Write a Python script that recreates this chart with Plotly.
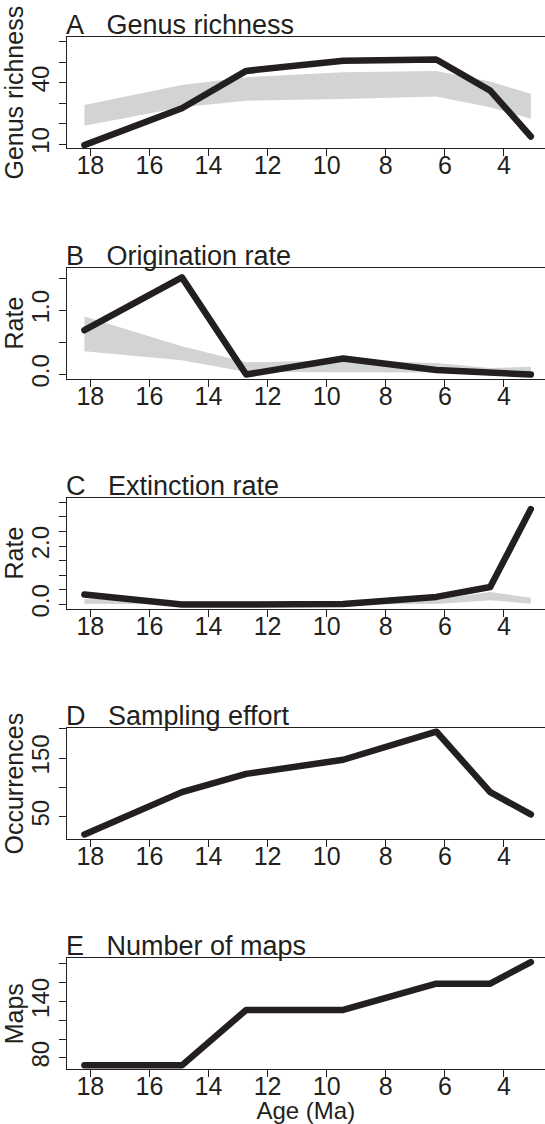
import plotly.graph_objects as go

# ---------------- data ----------------
ages = [18.2, 14.9, 12.725, 9.44, 6.29, 4.465, 3.09]
x_ticks = [18, 16, 14, 12, 10, 8, 6, 4]

genus = [9.5, 27.5, 45.7, 50.7, 51.3, 36.1, 13.7]
genus_lo = [18.9, 28.0, 31.2, 32.0, 33.2, 28.0, 22.3]
genus_hi = [29.1, 38.8, 42.6, 45.0, 45.7, 40.5, 34.5]

orig = [0.69, 1.51, 0.0, 0.25, 0.07, 0.04, 0.0]
orig_lo = [0.36, 0.22, 0.04, 0.04, 0.03, 0.02, 0.03]
orig_hi = [0.90, 0.44, 0.19, 0.22, 0.18, 0.10, 0.12]

ext = [0.34, 0.0, 0.0, 0.02, 0.26, 0.60, 3.27]
ext_lo = [0.03, 0.0, 0.0, 0.0, 0.02, 0.15, 0.03]
ext_hi = [0.20, 0.10, 0.10, 0.10, 0.17, 0.43, 0.23]

occ = [20, 92, 123, 147, 195, 92, 54]
maps = [72, 72, 131, 131, 159, 159, 182]

titles = ["A\u00a0\u00a0\u00a0Genus richness", "B\u00a0\u00a0\u00a0Origination rate",
          "C\u00a0\u00a0\u00a0Extinction rate", "D\u00a0\u00a0\u00a0Sampling effort",
          "E\u00a0\u00a0\u00a0Number of maps"]
ylabels = ["Genus richness", "Rate", "Rate", "Occurrences", "Maps"]

ytickvals = [[10, 20, 30, 40, 50, 60],
             [0, 0.5, 1.0, 1.5],
             [0, 0.5, 1.0, 1.5, 2.0, 2.5, 3.0, 3.5],
             [50, 100, 150, 200],
             [80, 100, 120, 140, 160, 180]]
yticktext = [["10", "", "", "40", "", ""],
             ["0.0", "", "1.0", ""],
             ["0.0", "", "", "", "2.0", "", "", ""],
             ["50", "", "150", ""],
             ["80", "", "", "140", "", ""]]
yranges = [[8.04, 62.1], [-0.062, 1.66], [-0.137, 3.66], [12.1, 200.5], [68, 186]]

series = [genus, orig, ext, occ, maps]
bands = [(genus_lo, genus_hi), (orig_lo, orig_hi), (ext_lo, ext_hi), None, None]

# ---------------- layout geometry ----------------
W, H = 545, 1124
box_tops = [37.3, 267.7, 497.7, 728.3, 958.3]
box_h = 110.8
x_left = 66.7
INK = "#231F20"
BAND = "#D1D3D4"
FONT = "Liberation Sans, Arial, Helvetica, sans-serif"

fig = go.Figure()
layout = dict(
    width=W, height=H,
    margin=dict(l=0, r=0, t=0, b=0),
    paper_bgcolor="white", plot_bgcolor="white",
    showlegend=False,
    font=dict(family=FONT, color=INK),
    annotations=[],
)

for i in range(5):
    n = i + 1
    xa = "x" if n == 1 else f"x{n}"
    ya = "y" if n == 1 else f"y{n}"
    if bands[i] is not None:
        lo, hi = bands[i]
        fig.add_trace(go.Scatter(
            x=ages + ages[::-1], y=lo + hi[::-1],
            fill="toself", fillcolor=BAND, mode="lines",
            line=dict(width=0, color=BAND), hoverinfo="skip",
            xaxis=xa, yaxis=ya))
    fig.add_trace(go.Scatter(
        x=ages, y=series[i], mode="lines",
        line=dict(color=INK, width=6.5),
        xaxis=xa, yaxis=ya, cliponaxis=True))

    top = box_tops[i]
    bot = top + box_h
    ydom = [1 - bot / H, 1 - top / H]

    xkey = "xaxis" if n == 1 else f"xaxis{n}"
    ykey = "yaxis" if n == 1 else f"yaxis{n}"
    layout[xkey] = dict(
        domain=[x_left / W, 1], range=[18.8, 2.61], anchor=ya,
        tickvals=x_ticks, ticktext=[str(t) for t in x_ticks],
        ticks="outside", ticklen=7, tickwidth=1, tickcolor=INK,
        showline=True, linecolor=INK, linewidth=1, mirror=True,
        showgrid=False, zeroline=False,
        tickfont=dict(size=25, color=INK, family=FONT),
        ticklabelstandoff=-12,
        automargin=False,
    )
    if n == 5:
        layout[xkey]["title"] = dict(text="Age (Ma)", font=dict(size=24, color=INK, family=FONT), standoff=7)
    layout[ykey] = dict(
        domain=ydom, range=yranges[i], anchor=xa,
        tickvals=ytickvals[i], ticktext=yticktext[i], tickangle=-90,
        ticks="outside", ticklen=7, tickwidth=1, tickcolor=INK,
        showline=True, linecolor=INK, linewidth=1, mirror=False,
        showgrid=False, zeroline=False,
        tickfont=dict(size=24, color=INK, family=FONT),
        title=dict(text=ylabels[i], font=dict(size=25, color=INK, family=FONT), standoff=2),
        automargin=False, ticklabelstandoff=0,
    )
    layout["annotations"].append(dict(
        text=titles[i], xref="paper", yref="paper",
        x=(x_left - 3) / W, y=1 - (top + 5) / H, xanchor="left", yanchor="bottom",
        showarrow=False, font=dict(size=27, color=INK, family=FONT)))

fig.update_layout(**layout)

post = """
document.body.style.margin='0';
document.body.style.overflow='hidden';
document.querySelectorAll('.scatterlayer .js-line').forEach(function(p){
  p.style.strokeLinecap='round'; p.style.strokeLinejoin='round';
});
"""
fig.write_html("out.html", post_script=post, config={"displayModeBar": False})
